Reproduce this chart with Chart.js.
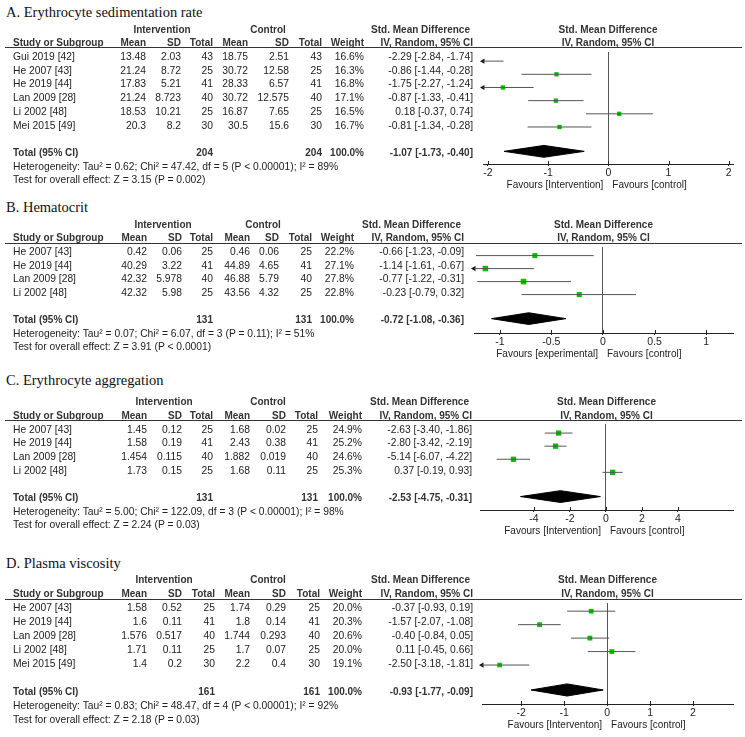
<!DOCTYPE html>
<html><head><meta charset="utf-8">
<script src="https://cdn.jsdelivr.net/npm/chart.js@4.4.0/dist/chart.umd.min.js"></script>
<style>
body{margin:0;background:#fff}
#fig{position:relative;width:745px;height:737px;overflow:hidden;background:#fff;font-family:Arial,"Liberation Sans",sans-serif;font-size:10.3px;color:#222}
.t{position:absolute;white-space:nowrap;line-height:14px;height:14px}
.b{font-weight:bold;color:#333;font-size:10px}
.fav{font-size:10px}
.ttl{font-family:"Times New Roman","Liberation Serif",serif;font-size:14.5px;color:#111;line-height:18px;height:18px}
.rule{position:absolute;height:1px;background:#333}
canvas{position:absolute;left:0}
</style></head><body><div id="fig"></div>
<script>
// ── A. Erythrocyte sedimentation rate
const studyA=['Gui 2019 [42]','He 2007 [43]','He 2019 [44]','Lan 2009 [28]','Li 2002 [48]','Mei 2015 [49]'];
const intMeanA=['13.48','21.24','17.83','21.24','18.53','20.3'];
const intSdA=['2.03','8.72','5.21','8.723','10.21','8.2'];
const intNA=[43,25,41,40,25,30];
const ctlMeanA=['18.75','30.72','28.33','30.72','16.87','30.5'];
const ctlSdA=['2.51','12.58','6.57','12.575','7.65','15.6'];
const ctlNA=[43,25,41,40,25,30];
const weightA=[16.6,16.3,16.8,17.1,16.5,16.7];
const smdA=[-2.29,-0.86,-1.75,-0.87,0.18,-0.81];
const loA=[-2.84,-1.44,-2.27,-1.33,-0.37,-1.34];
const hiA=[-1.74,-0.28,-1.24,-0.41,0.74,-0.28];
const totalA=[-1.07,-1.73,-0.40];
const totalNA=[204,204];
const hetA='Heterogeneity: Tau² = 0.62; Chi² = 47.42, df = 5 (P < 0.00001); I² = 89%';
const testA='Test for overall effect: Z = 3.15 (P = 0.002)';
const ticksA=[-2,-1,0,1,2];
const rangeA=[-2.08,2.07];
const favoursA=['Favours [Intervention]','Favours [control]'];

// ── B. Hematocrit
const studyB=['He 2007 [43]','He 2019 [44]','Lan 2009 [28]','Li 2002 [48]'];
const intMeanB=['0.42','40.29','42.32','42.32'];
const intSdB=['0.06','3.22','5.978','5.98'];
const intNB=[25,41,40,25];
const ctlMeanB=['0.46','44.89','46.88','43.56'];
const ctlSdB=['0.06','4.65','5.79','4.32'];
const ctlNB=[25,41,40,25];
const weightB=[22.2,27.1,27.8,22.8];
const smdB=[-0.66,-1.14,-0.77,-0.23];
const loB=[-1.23,-1.61,-1.22,-0.79];
const hiB=[-0.09,-0.67,-0.31,0.32];
const totalB=[-0.72,-1.08,-0.36];
const totalNB=[131,131];
const hetB='Heterogeneity: Tau² = 0.07; Chi² = 6.07, df = 3 (P = 0.11); I² = 51%';
const testB='Test for overall effect: Z = 3.91 (P < 0.0001)';
const ticksB=[-1,-0.5,0,0.5,1];
const rangeB=[-1.25,1.26];
const favoursB=['Favours [experimental]','Favours [control]'];

// ── C. Erythrocyte aggregation
const studyC=['He 2007 [43]','He 2019 [44]','Lan 2009 [28]','Li 2002 [48]'];
const intMeanC=['1.45','1.58','1.454','1.73'];
const intSdC=['0.12','0.19','0.115','0.15'];
const intNC=[25,41,40,25];
const ctlMeanC=['1.68','2.43','1.882','1.68'];
const ctlSdC=['0.02','0.38','0.019','0.11'];
const ctlNC=[25,41,40,25];
const weightC=[24.9,25.2,24.6,25.3];
const smdC=[-2.63,-2.80,-5.14,0.37];
const loC=[-3.40,-3.42,-6.07,-0.19];
const hiC=[-1.86,-2.19,-4.22,0.93];
const totalC=[-2.53,-4.75,-0.31];
const totalNC=[131,131];
const hetC='Heterogeneity: Tau² = 5.00; Chi² = 122.09, df = 3 (P < 0.00001); I² = 98%';
const testC='Test for overall effect: Z = 2.24 (P = 0.03)';
const ticksC=[-4,-2,0,2,4];
const rangeC=[-7,7.06];
const favoursC=['Favours [Intervention]','Favours [control]'];

// ── D. Plasma viscosity
const studyD=['He 2007 [43]','He 2019 [44]','Lan 2009 [28]','Li 2002 [48]','Mei 2015 [49]'];
const intMeanD=['1.58','1.6','1.576','1.71','1.4'];
const intSdD=['0.52','0.11','0.517','0.11','0.2'];
const intND=[25,41,40,25,30];
const ctlMeanD=['1.74','1.8','1.744','1.7','2.2'];
const ctlSdD=['0.29','0.14','0.293','0.07','0.4'];
const ctlND=[25,41,40,25,30];
const weightD=[20.0,20.3,20.6,20.0,19.1];
const smdD=[-0.37,-1.57,-0.40,0.11,-2.50];
const loD=[-0.93,-2.07,-0.84,-0.45,-3.18];
const hiD=[0.19,-1.08,0.05,0.66,-1.81];
const totalD=[-0.93,-1.77,-0.09];
const totalND=[161,161];
const hetD='Heterogeneity: Tau² = 0.83; Chi² = 48.47, df = 4 (P < 0.00001); I² = 92%';
const testD='Test for overall effect: Z = 2.18 (P = 0.03)';
const ticksD=[-2,-1,0,1,2];
const rangeD=[-2.91,2.93];
const favoursD=['Favours [Interventon]','Favours [control]'];

Chart.defaults.font.family='Arial, "Liberation Sans", sans-serif';

const panels=[
  {title:'A. Erythrocyte sedimentation rate',study:studyA,intMean:intMeanA,intSd:intSdA,intN:intNA,ctlMean:ctlMeanA,ctlSd:ctlSdA,ctlN:ctlNA,weight:weightA,smd:smdA,lo:loA,hi:hiA,total:totalA,totalN:totalNA,het:hetA,test:testA,ticks:ticksA,range:rangeA,favours:favoursA,
   lay:{title:12,row0:57,pitch:13.7,rule:47.5,axis:164,left:483,cols:[146,181,213,248,289,322,364,473],grp:[162,268]}},
  {title:'B. Hematocrit',study:studyB,intMean:intMeanB,intSd:intSdB,intN:intNB,ctlMean:ctlMeanB,ctlSd:ctlSdB,ctlN:ctlNB,weight:weightB,smd:smdB,lo:loB,hi:hiB,total:totalB,totalN:totalNB,het:hetB,test:testB,ticks:ticksB,range:rangeB,favours:favoursB,
   lay:{title:207,row0:252,pitch:13.6,rule:243,axis:333,left:474,cols:[147,182,213,250,279,312,354,464],grp:[163,263]}},
  {title:'C. Erythrocyte aggregation',study:studyC,intMean:intMeanC,intSd:intSdC,intN:intNC,ctlMean:ctlMeanC,ctlSd:ctlSdC,ctlN:ctlNC,weight:weightC,smd:smdC,lo:loC,hi:hiC,total:totalC,totalN:totalNC,het:hetC,test:testC,ticks:ticksC,range:rangeC,favours:favoursC,
   lay:{title:380,row0:429.5,pitch:13.7,rule:420,axis:510,left:480,cols:[147,182,213,250,286,318,362,472],grp:[164,268]}},
  {title:'D. Plasma viscosity',study:studyD,intMean:intMeanD,intSd:intSdD,intN:intND,ctlMean:ctlMeanD,ctlSd:ctlSdD,ctlN:ctlND,weight:weightD,smd:smdD,lo:loD,hi:hiD,total:totalD,totalN:totalND,het:hetD,test:testD,ticks:ticksD,range:rangeD,favours:favoursD,
   lay:{title:563,row0:607.5,pitch:14,rule:599,axis:704,left:482,cols:[147,182,215,250,286,320,362,473],grp:[164,268]}},
];

const fig=document.getElementById('fig');
const RIGHT=733;

// tick marks that also poke above the axis line
const tickUp={
  id:'tickUp',
  afterDraw(chart){
    const s=chart.scales.x, c=chart.ctx;
    c.save(); c.strokeStyle='#222'; c.lineWidth=1;
    s.ticks.forEach(t=>{
      const x=Math.round(s.getPixelForValue(t.value))+0.5;
      c.beginPath(); c.moveTo(x,s.top-3); c.lineTo(x,s.top); c.stroke();
    });
    c.restore();
  }
};

function put(x,y,s,cls,align){
  const d=document.createElement('div');
  d.className='t '+(cls||'');
  d.textContent=s;
  if(align==='r'){ d.style.left=(x-300)+'px'; d.style.width='300px'; d.style.textAlign='right'; }
  else if(align==='c'){ d.style.left=(x-150)+'px'; d.style.width='300px'; d.style.textAlign='center'; }
  else d.style.left=x+'px';
  d.style.top=(y-(cls==='ttl'?9:7))+'px';
  fig.appendChild(d);
}
const ci=(e,l,h)=>`${e.toFixed(2)} [${l.toFixed(2)}, ${h.toFixed(2)}]`;

function drawPanel(P){
  const L=P.lay, n=P.study.length;
  const rowY=i=>L.row0+i*L.pitch;

  // forest plot
  const H=L.axis-L.rule+16;
  const cv=document.createElement('canvas');
  cv.width=745; cv.height=H;
  cv.style.top=L.rule+'px'; cv.style.width='745px'; cv.style.height=H+'px';
  fig.appendChild(cv);

  const ciLine=[], squares=[], arrows=[];
  P.smd.forEach((v,i)=>{
    ciLine.push({x:P.lo[i],y:i},{x:P.hi[i],y:i},{x:null,y:null});
    squares.push({x:v,y:i});
    if(P.lo[i]<P.range[0]) arrows.push({x:P.range[0],y:i});
  });
  const T=n+1, [est,tlo,thi]=P.total;
  const dy=T-0.15;
  const diamond=[{x:tlo,y:dy},{x:est,y:dy-0.45},{x:thi,y:dy},{x:est,y:dy+0.45},{x:tlo,y:dy}];

  const ch=new Chart(cv,{
    type:'scatter',
    data:{datasets:[
      {data:ciLine,showLine:true,spanGaps:false,borderColor:'#555',borderWidth:1,pointRadius:0},
      {data:squares,pointStyle:'rect',pointRadius:P.weight.map(w=>0.75*Math.sqrt(w)),pointBackgroundColor:'#00c000',pointBorderWidth:0},
      {data:arrows,pointStyle:'triangle',pointRotation:-90,pointRadius:3,pointBackgroundColor:'#111',pointBorderWidth:0,clip:false},
      {data:diamond,showLine:true,fill:'shape',backgroundColor:'#000',borderColor:'#000',borderWidth:1,pointRadius:0,tension:0}
    ]},
    options:{
      responsive:false,animation:false,events:[],
      layout:{padding:{left:L.left,right:745-RIGHT,top:0,bottom:0}},
      plugins:{legend:{display:false},tooltip:{enabled:false}},
      scales:{
        x:{type:'linear',min:P.range[0],max:P.range[1],
          afterBuildTicks:s=>{ s.ticks=P.ticks.map(v=>({value:v})); },
          afterFit:s=>{ s.height=16; },
          ticks:{autoSkip:false,maxRotation:0,padding:1,color:'#222',font:{size:10.5},callback:v=>String(v)},
          grid:{color:c=>(c.tick&&c.tick.value===0)?'#555':'rgba(0,0,0,0)',tickColor:'#222',tickLength:2,lineWidth:1},
          border:{color:'#222',width:1}},
        y:{display:false,reverse:true,min:(L.rule-L.row0)/L.pitch,max:(L.axis-L.row0)/L.pitch}
      }
    },
    plugins:[tickUp]
  });

  // table
  put(6,L.title,P.title,'ttl');
  put(L.grp[0],rowY(-2),'Intervention','b','c');
  put(L.grp[1],rowY(-2),'Control','b','c');
  put(L.cols[7]-3,rowY(-2),'Std. Mean Difference','b','r');
  const pc=(L.left+RIGHT)/2;
  put(pc,rowY(-2),'Std. Mean Difference','b','c');
  put(pc,rowY(-1),'IV, Random, 95% CI','b','c');
  put(13,rowY(-1),'Study or Subgroup','b');
  ['Mean','SD','Total','Mean','SD','Total','Weight','IV, Random, 95% CI'].forEach((s,k)=>put(L.cols[k],rowY(-1),s,'b','r'));
  const r=document.createElement('div');
  r.className='rule'; r.style.left='5px'; r.style.width='737px'; r.style.top=(L.rule-0.5)+'px';
  fig.appendChild(r);

  P.study.forEach((s,i)=>{
    const y=rowY(i);
    put(13,y,s);
    const cells=[P.intMean[i],P.intSd[i],P.intN[i],P.ctlMean[i],P.ctlSd[i],P.ctlN[i],P.weight[i].toFixed(1)+'%',ci(P.smd[i],P.lo[i],P.hi[i])];
    cells.forEach((c,k)=>put(L.cols[k],y,String(c),'','r'));
  });
  const ty=rowY(T);
  put(13,ty,'Total (95% CI)','b');
  put(L.cols[2],ty,String(P.totalN[0]),'b','r');
  put(L.cols[5],ty,String(P.totalN[1]),'b','r');
  put(L.cols[6],ty,'100.0%','b','r');
  put(L.cols[7],ty,ci(est,tlo,thi),'b','r');
  put(13,rowY(n+2),P.het);
  put(13,rowY(n+3),P.test);

  // favours labels around the zero line
  const x0=ch.scales.x.getPixelForValue(0);
  put(x0-5,L.axis+21,P.favours[0],'fav','r');
  put(x0+4,L.axis+21,P.favours[1],'fav');
}

panels.forEach(drawPanel);
</script></body></html>
